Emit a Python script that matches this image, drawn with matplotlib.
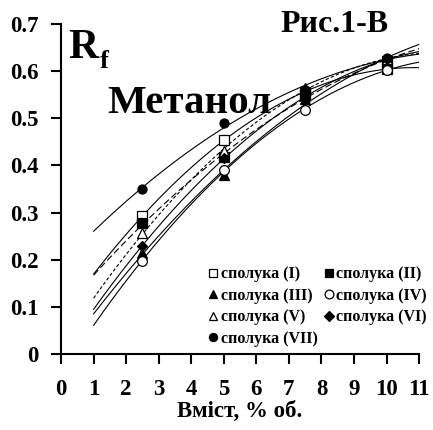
import numpy as np
import matplotlib.pyplot as plt

# Data
conc = [2.5, 5, 7.5, 10]
labels = ["сполука (I)", "сполука (II)", "сполука (III)", "сполука (IV)",
          "сполука (V)", "сполука (VI)", "сполука (VII)"]
rf_I = [0.292, 0.455, 0.555, 0.605]
rf_II = [0.277, 0.418, 0.550, 0.622]
rf_III = [0.215, 0.380, 0.540, 0.625]
rf_IV = [0.198, 0.390, 0.518, 0.603]
rf_V = [0.256, 0.430, 0.565, 0.625]
rf_VI = [0.230, 0.415, 0.545, 0.625]
rf_VII = [0.350, 0.490, 0.560, 0.628]

series = [rf_I, rf_II, rf_III, rf_IV, rf_V, rf_VI, rf_VII]
markers = ['s', 's', '^', 'o', '^', 'D', 'o']
faces = ['white', 'black', 'black', 'white', 'white', 'black', 'black']
sizes = [7, 7, 7, 7, 7, 5.5, 6.5]
styles = ['-', (0, (6, 3)), '-', '-', (0, (3, 2)), '-', '-']

plt.rcParams['font.family'] = 'Liberation Serif'
plt.rcParams['font.weight'] = 'bold'

fig = plt.figure(figsize=(4.33, 4.30), dpi=100)
ax = fig.add_axes([0.141, 0.177, 0.827, 0.767])

# 2nd order polynomial trendlines, drawn from 1 to 11
xs = np.linspace(1, 11, 200)
handles = []
for vals, m, fc, ms, ls, lab in zip(series, markers, faces, sizes, styles, labels):
    coef = np.polyfit(conc, vals, 2)
    ax.plot(xs, np.polyval(coef, xs), color='black', lw=0.8, ls=ls)
    h, = ax.plot(conc, vals, ls='none', marker=m, mfc=fc, mec='black', mew=0.9,
                 ms=ms, label=lab)
    handles.append(h)

ax.set_xlim(0, 11)
ax.set_ylim(0, 0.7)
ax.set_xticks(range(0, 12))
ax.set_yticks([0, 0.1, 0.2, 0.3, 0.4, 0.5, 0.6, 0.7])
ax.set_yticklabels(['0', '0.1', '0.2', '0.3', '0.4', '0.5', '0.6', '0.7'])
ax.spines['top'].set_visible(False)
ax.spines['right'].set_visible(False)
ax.spines['left'].set_linewidth(1.5)
ax.spines['bottom'].set_linewidth(1.5)
ax.tick_params(axis='both', labelsize=16.5, width=1.5, length=7, direction='out')
ax.tick_params(axis='x', pad=11)
ax.tick_params(axis='y', pad=9)
for t in ax.get_xticklabels() + ax.get_yticklabels():
    t.set_fontweight('bold')
ax.set_xlabel('Вміст, % об.', fontsize=16.5, fontweight='bold', labelpad=1)

ax.text(0.02, 0.897, 'R', transform=ax.transAxes, fontsize=30,
        fontweight='bold', va='baseline', ha='left')
ax.text(0.109, 0.868, 'f', transform=ax.transAxes, fontsize=19,
        fontweight='bold', va='baseline', ha='left')
ax.text(0.128, 0.76, 'Метанол', transform=ax.transAxes, fontsize=29.5,
        fontweight='bold', va='center', ha='left')
ax.text(0.765, 1.0, 'Рис.1-В', transform=ax.transAxes, fontsize=23,
        fontweight='bold', va='center', ha='center')

# row-wise legend order
order = [0, 2, 4, 6, 1, 3, 5]
ax.legend([handles[i] for i in order], [labels[i] for i in order],
          loc='upper left', bbox_to_anchor=(0.39, 0.285), ncol=2,
          frameon=False, handletextpad=0.05, columnspacing=0.3,
          labelspacing=0.35, handlelength=0.8, borderaxespad=0,
          markerscale=0.9, prop={'weight': 'bold', 'size': 11.5})

plt.savefig('out.png', dpi=100)
